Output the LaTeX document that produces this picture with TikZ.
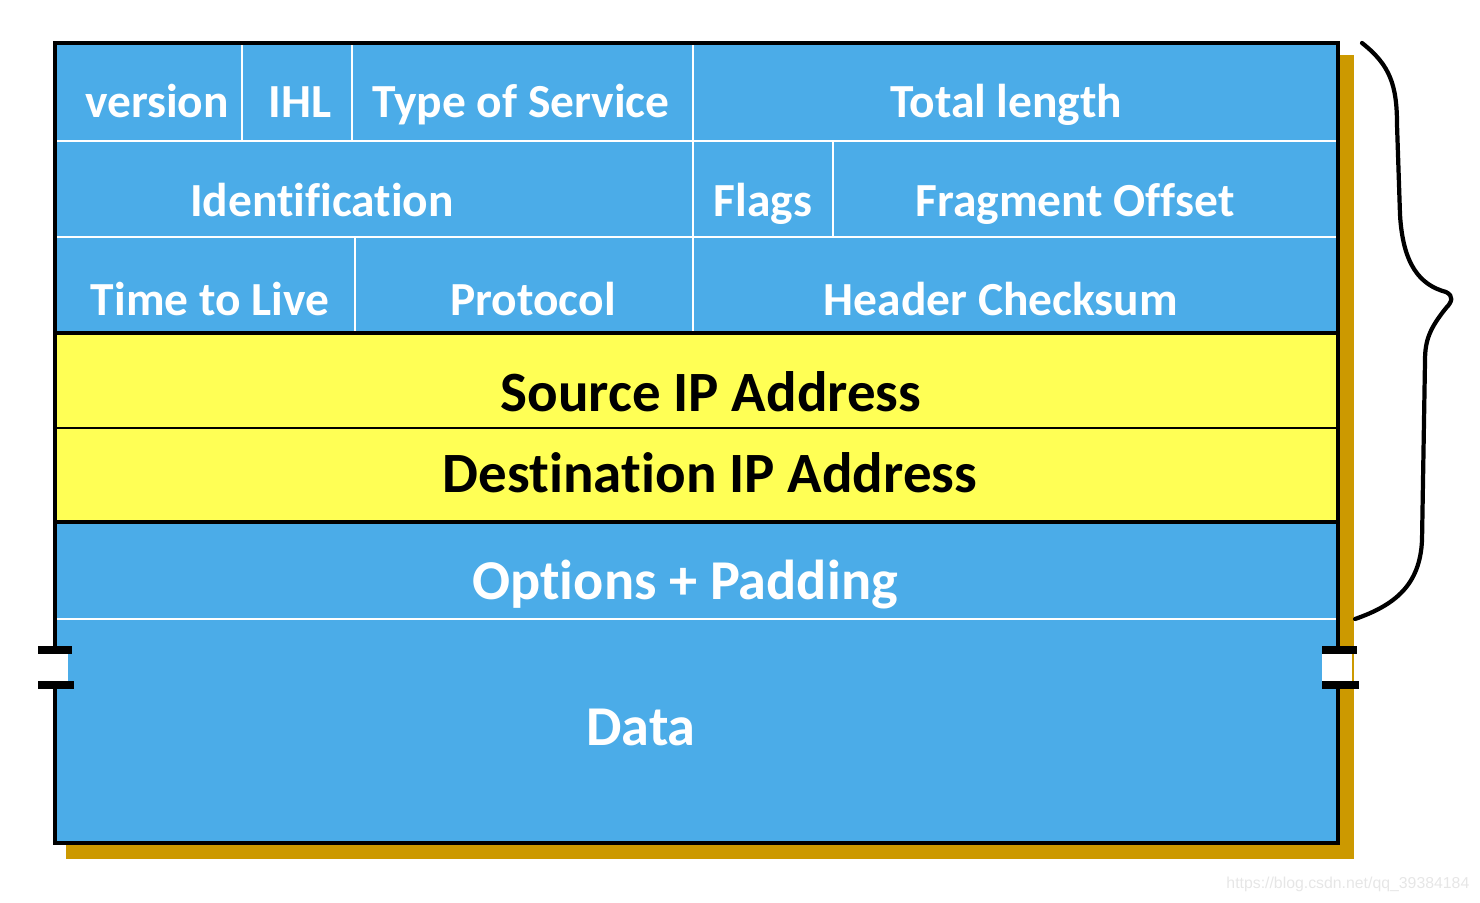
\documentclass[tikz,border=0pt]{standalone}
\usepackage{fontspec}
\setmainfont{Carlito}[Ligatures=NoCommon]
\newfontfamily\markfont{Liberation Sans}
\definecolor{ipBlue}{HTML}{4BACE8}
\definecolor{ipYellow}{HTML}{FFFF55}
\definecolor{ipGold}{HTML}{CC9900}
\definecolor{ipMark}{HTML}{E6E6E6}
\usetikzlibrary{calc,positioning}

\tikzset{
  field/.style={text=white, anchor=base, font=\fontsize{13.5}{16}\selectfont\bfseries},
  addr/.style={text=black, anchor=base, font=\fontsize{16.2}{19}\selectfont\bfseries},
  big/.style={field, font=\fontsize{16}{19}\selectfont\bfseries},
  cellline/.style={draw=white, line width=0.6pt},
  cutbar/.style={fill=black},
}

\begin{document}
\begin{tikzpicture}[x=0.01cm, y=-0.01cm]
  \useasboundingbox (0,0) rectangle (1480,902);

  % shadow and body
  \fill[ipGold] (66,55) rectangle (1354,859);
  \fill[ipBlue] (55,43) rectangle (1338,843);
  \fill[ipYellow] (55,333) rectangle (1338,522);

  % cell lines
  \draw[cellline] (55,141) -- (1338,141);
  \draw[cellline] (55,237) -- (1338,237);
  \draw[cellline] (55,619) -- (1338,619);
  \draw[cellline] (242,43) -- (242,141);
  \draw[cellline] (352,43) -- (352,141);
  \draw[cellline] (693,43) -- (693,333);
  \draw[cellline] (833,141) -- (833,237);
  \draw[cellline] (355,237) -- (355,333);

  % address rows
  \draw[line width=0.9pt] (55,333) -- (1338,333);
  \draw[line width=0.6pt] (55,428) -- (1338,428);
  \draw[line width=0.9pt] (55,522) -- (1338,522);

  % frame
  \draw[line width=1.4pt] (55,43) rectangle (1338,843);

  % cut marks
  \fill[white] (36,652) rectangle (68,683);
  \fill[white] (1322,652) rectangle (1352,683);
  \fill[cutbar] (38,646) rectangle (72,654);
  \fill[cutbar] (38,681) rectangle (74,689);
  \fill[cutbar] (1322,646) rectangle (1357,654);
  \fill[cutbar] (1322,681) rectangle (1359,689);

  % brace
  \draw[line width=1.2pt, line cap=round, line join=round]
    (1362,43) .. controls (1390,65) and (1397,85) .. (1397,125)
    -- (1400,215)
    .. controls (1403,265) and (1420,285) .. (1446,292)
    .. controls (1454,296) and (1452,302) .. (1446,308)
    .. controls (1430,328) and (1425,340) .. (1425,360)
    -- (1422,540)
    .. controls (1420,585) and (1395,605) .. (1355,619);

  % row 1
  \node[field] (version) at (157,117) {version};
  \node[field] (ihl) at (300,117) {IHL};
  \node[field] (tos) at (521,117) {Type of Service};
  \node[field] (totlen) at (1006,117) {Total length};

  % row 2
  \node[field] (ident) at (322,216) {Identification};
  \node[field] (flags) at (763,216) {Flags};
  \node[field] (fragoff) at (1075,216) {Fragment Offset};

  % row 3
  \node[field] (ttl) at (210,315) {Time to Live};
  \node[field] (proto) at (533,315) {Protocol};
  \node[field] (chksum) at (1001,315) {Header Checksum};

  % addresses
  \node[addr] (srcip) at (711,411) {Source IP Address};
  \node[addr] (dstip) at (710,492) {Destination IP Address};

  % options and data
  \node[big] (options) at (685,599) {Options + Padding};
  \node[big] (data) at (641,745) {Data};

  \node[text=ipMark, inner sep=0pt, font=\markfont\fontsize{4.5}{5}\selectfont, anchor=east] (mark) at (1470,884) {https://blog.csdn.net/qq\_39384184};
\end{tikzpicture}
\end{document}
